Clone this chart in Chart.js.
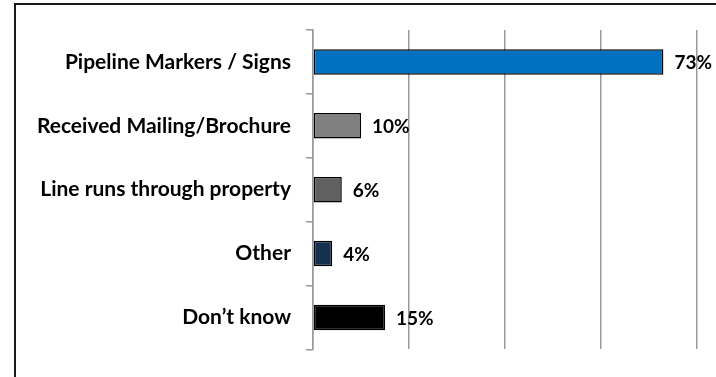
<!DOCTYPE html>
<html>
<head>
  <meta charset="UTF-8">
  <title>Awareness sources</title>
  <script src="https://cdn.jsdelivr.net/npm/chart.js"></script>
  <style>
    html, body { margin: 0; padding: 0; background: #fff; }
    #wrap { width: 716px; height: 377px; position: relative; }
  </style>
</head>
<body>
  <div id="wrap"><canvas id="myChart" width="716" height="377"></canvas></div>

  <script>
    const categories = ['Pipeline Markers / Signs', 'Received Mailing/Brochure', 'Line runs through property', 'Other', 'Don\u2019t know'];
    const percents = [73, 10, 6, 4, 15];
    const barColors = ['#0070C0', '#808080', '#606060', '#16304F', '#000000'];

    const FONT = 'Lato, "Liberation Sans", sans-serif';

    // value text right of each bar
    const valueLabels = {
      id: 'valueLabels',
      afterDatasetsDraw(chart) {
        const ctx = chart.ctx;
        const meta = chart.getDatasetMeta(0);
        ctx.save();
        ctx.font = 'bold 19px ' + FONT;
        ctx.fillStyle = '#000';
        ctx.textAlign = 'left';
        ctx.textBaseline = 'middle';
        meta.data.forEach((bar, i) => {
          ctx.fillText(percents[i] + '%', bar.x + 11, bar.y + 1);
        });
        ctx.restore();
      }
    };

    // outer frame, only the top and left edges fall inside the canvas
    const frame = {
      id: 'frame',
      beforeDraw(chart) {
        const ctx = chart.ctx;
        ctx.save();
        ctx.strokeStyle = '#1a1a1a';
        ctx.lineWidth = 2;
        ctx.beginPath();
        ctx.moveTo(15, chart.height);
        ctx.lineTo(15, 4);
        ctx.lineTo(chart.width, 4);
        ctx.stroke();
        ctx.restore();
      }
    };

    const ctx = document.getElementById('myChart').getContext('2d');
    new Chart(ctx, {
      type: 'bar',
      data: {
        labels: categories,
        datasets: [{
          data: percents,
          backgroundColor: barColors,
          borderColor: '#000',
          borderWidth: 1.5,
          borderSkipped: false,
          barPercentage: 0.4,
          categoryPercentage: 1
        }]
      },
      options: {
        indexAxis: 'y',
        responsive: false,
        animation: false,
        layout: { padding: { top: 30, right: 19, bottom: 24, left: 0 } },
        plugins: {
          legend: { display: false },
          tooltip: { enabled: false }
        },
        scales: {
          x: {
            min: 0,
            max: 80,
            ticks: { display: false, stepSize: 20 },
            grid: { color: '#999', lineWidth: 1.5, drawTicks: false },
            border: { display: false },
            afterFit(scale) { scale.height = 0; }
          },
          y: {
            ticks: {
              color: '#000',
              padding: 15,
              font: { family: FONT, weight: 'bold', size: 21 }
            },
            grid: { drawOnChartArea: false, drawTicks: true, tickLength: 7, color: '#999', lineWidth: 1.5 },
            border: { color: '#999', width: 1.5 },
            afterFit(scale) { scale.width = 313; }
          }
        }
      },
      plugins: [valueLabels, frame]
    });
  </script>
</body>
</html>
